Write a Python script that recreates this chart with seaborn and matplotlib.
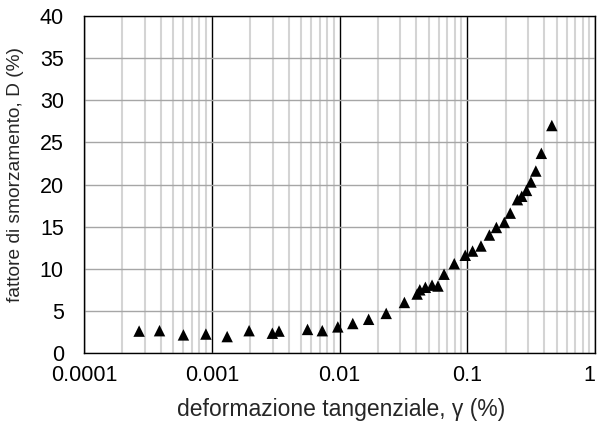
import numpy as np
import pandas as pd
import matplotlib.pyplot as plt
import matplotlib.ticker as mticker
import seaborn as sns

# shear strain (%) and damping ratio (%)
gamma = [0.00027, 0.00039, 0.00060, 0.00090, 0.00132, 0.00196, 0.00298, 0.00336,
         0.00562, 0.00733, 0.0097, 0.0127, 0.0169, 0.0232, 0.0322, 0.0405,
         0.0425, 0.047, 0.053, 0.059, 0.0658, 0.0791, 0.0964, 0.110, 0.128,
         0.149, 0.169, 0.195, 0.217, 0.247, 0.267, 0.291, 0.315, 0.344,
         0.380, 0.459]
damping = [2.6, 2.65, 2.15, 2.25, 1.95, 2.65, 2.35, 2.6,
           2.8, 2.65, 3.1, 3.5, 4.0, 4.7, 6.0, 7.0,
           7.5, 7.8, 8.05, 7.95, 9.35, 10.6, 11.6, 12.1, 12.7,
           14.0, 14.9, 15.5, 16.6, 18.2, 18.6, 19.3, 20.3, 21.6,
           23.7, 27.0]

y_ticks = [0, 5, 10, 15, 20, 25, 30, 35, 40]
x_ticks = [0.0001, 0.001, 0.01, 0.1, 1]
x_tick_labels = ["0.0001", "0.001", "0.01", "0.1", "1"]

df = pd.DataFrame({"gamma": gamma, "D": damping})

sns.set_style("white")
plt.rcParams["font.family"] = ["Liberation Sans", "DejaVu Sans"]

fig = plt.figure(figsize=(5.97, 4.37), dpi=100)
ax = fig.add_axes([0.1407, 0.1922, 0.856, 0.7712])

ax.set_xscale("log")
ax.set_xlim(0.0001, 1)
ax.set_ylim(0, 40)

# grid: light minor verticals, black decade lines, grey horizontals
ax.xaxis.set_minor_locator(mticker.LogLocator(base=10, subs=np.arange(2, 10)))
ax.grid(which="minor", axis="x", color="#d4d4d4", linewidth=1.5)
ax.grid(which="major", axis="x", color="black", linewidth=1.0)
ax.grid(which="major", axis="y", color="#a6a6a6", linewidth=1.0)
ax.set_axisbelow(True)

sns.scatterplot(data=df, x="gamma", y="D", marker="^", s=68, color="black",
                edgecolor="none", ax=ax, zorder=3, legend=False)

ax.set_xticks(x_ticks)
ax.set_xticklabels(x_tick_labels)
ax.set_yticks(y_ticks)
ax.tick_params(which="major", direction="out", length=4.5, width=1, colors="black",
               labelsize=15.5)
ax.tick_params(which="minor", length=0)
ax.tick_params(axis="x", pad=4)
ax.tick_params(axis="y", pad=10)
ax.get_xticklabels()[-1].set_ha("right")

for s in ax.spines.values():
    s.set_color("black")
    s.set_linewidth(1.0)

ax.set_xlabel("deformazione tangenziale, γ (%)", fontsize=16.5)
ax.set_ylabel("fattore di smorzamento, D (%)", fontsize=13.8)
ax.xaxis.set_label_coords(0.504, -0.169)
ax.xaxis.label.set_va("center")
ax.yaxis.set_label_coords(-0.135, 0.53)
ax.yaxis.label.set_va("center")

plt.savefig("out.png", dpi=100)
